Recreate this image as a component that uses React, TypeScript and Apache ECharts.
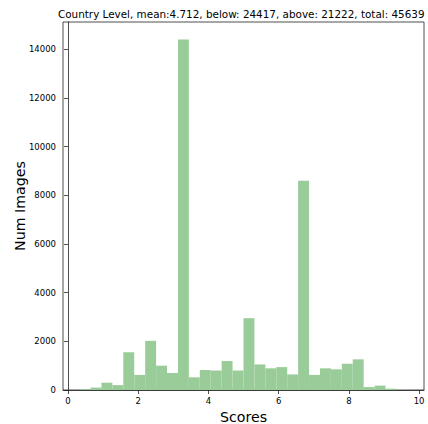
import React, { useEffect, useRef } from "react";
import * as echarts from "echarts";

const titleText = "Country Level, mean:4.712, below: 24417, above: 21222, total: 45639";
const xTickValues = [0, 2, 4, 6, 8, 10];
const yTickValues = [0, 2000, 4000, 6000, 8000, 10000, 12000, 14000];
const binLow = 1 / 3;
const binHigh = 29 / 3;
const counts = [
  30, 100, 300, 200, 1550, 620, 2020, 1000, 700, 14400,
  520, 820, 800, 1190, 800, 2950, 1050, 890, 940, 640,
  8600, 620, 890, 850, 1080, 1260, 120, 180, 55, 15,
];

export default function App() {
  const ref = useRef<HTMLDivElement>(null);
  useEffect(() => {
    if (!ref.current) return;
    const chart = echarts.init(ref.current, null, { renderer: "svg" });
    const n = counts.length;
    const w = (binHigh - binLow) / n;
    const data = counts.map((c, i) => [binLow + i * w, binLow + (i + 1) * w, c]);
    const font = "DejaVu Sans";
    chart.setOption({
      animation: false,
      backgroundColor: "#ffffff",
      title: {
        text: titleText,
        left: 53,
        top: 4,
        textStyle: { fontFamily: font, fontSize: 10.4, fontWeight: "normal", color: "#000" },
      },
      grid: {
        left: 63,
        right: 4,
        top: 22,
        bottom: 34,
        outerBoundsMode: "none",
        containLabel: false,
        show: true,
        borderColor: "#222",
        borderWidth: 0.8,
        backgroundColor: "transparent",
      },
      xAxis: {
        type: "value",
        min: -0.14,
        max: 10.14,
        name: "Scores",
        nameLocation: "middle",
        nameGap: 20,
        nameMoveOverlap: false,
        nameTextStyle: { fontFamily: font, fontSize: 14.2, color: "#000" },
        axisLine: { show: true, lineStyle: { color: "#222", width: 0.8 } },
        axisTick: { show: true, length: 4, customValues: xTickValues, lineStyle: { color: "#222", width: 0.8 } },
        axisLabel: {
          customValues: xTickValues,
          formatter: (v: number) => String(v),
          fontFamily: font,
          fontSize: 8.5,
          color: "#000",
          margin: 6,
        },
        splitLine: { show: false },
      },
      yAxis: {
        type: "value",
        min: 0,
        max: 15120,
        name: "Num Images",
        nameLocation: "middle",
        nameGap: 36,
        nameMoveOverlap: false,
        nameTextStyle: { fontFamily: font, fontSize: 14.2, color: "#000" },
        axisLine: { show: true, lineStyle: { color: "#222", width: 0.8 } },
        axisTick: { show: true, length: 4, customValues: yTickValues, lineStyle: { color: "#222", width: 0.8 } },
        axisLabel: {
          customValues: yTickValues,
          formatter: (v: number) => String(v),
          fontFamily: font,
          fontSize: 8.5,
          color: "#000",
          margin: 7,
        },
        splitLine: { show: false },
      },
      series: [
        {
          type: "custom",
          data,
          encode: { x: [0, 1], y: 2 },
          renderItem: (params: any, api: any) => {
            const p0 = api.coord([api.value(0), api.value(2)]);
            const p1 = api.coord([api.value(1), 0]);
            return {
              type: "rect",
              shape: { x: p0[0], y: p0[1], width: p1[0] - p0[0], height: p1[1] - p0[1] },
              style: { fill: "#99cc99" },
            };
          },
        },
      ],
    });
    return () => chart.dispose();
  }, []);
  return <div ref={ref} style={{ position: "fixed", left: 0, top: 0, width: 428, height: 424 }} />;
}
